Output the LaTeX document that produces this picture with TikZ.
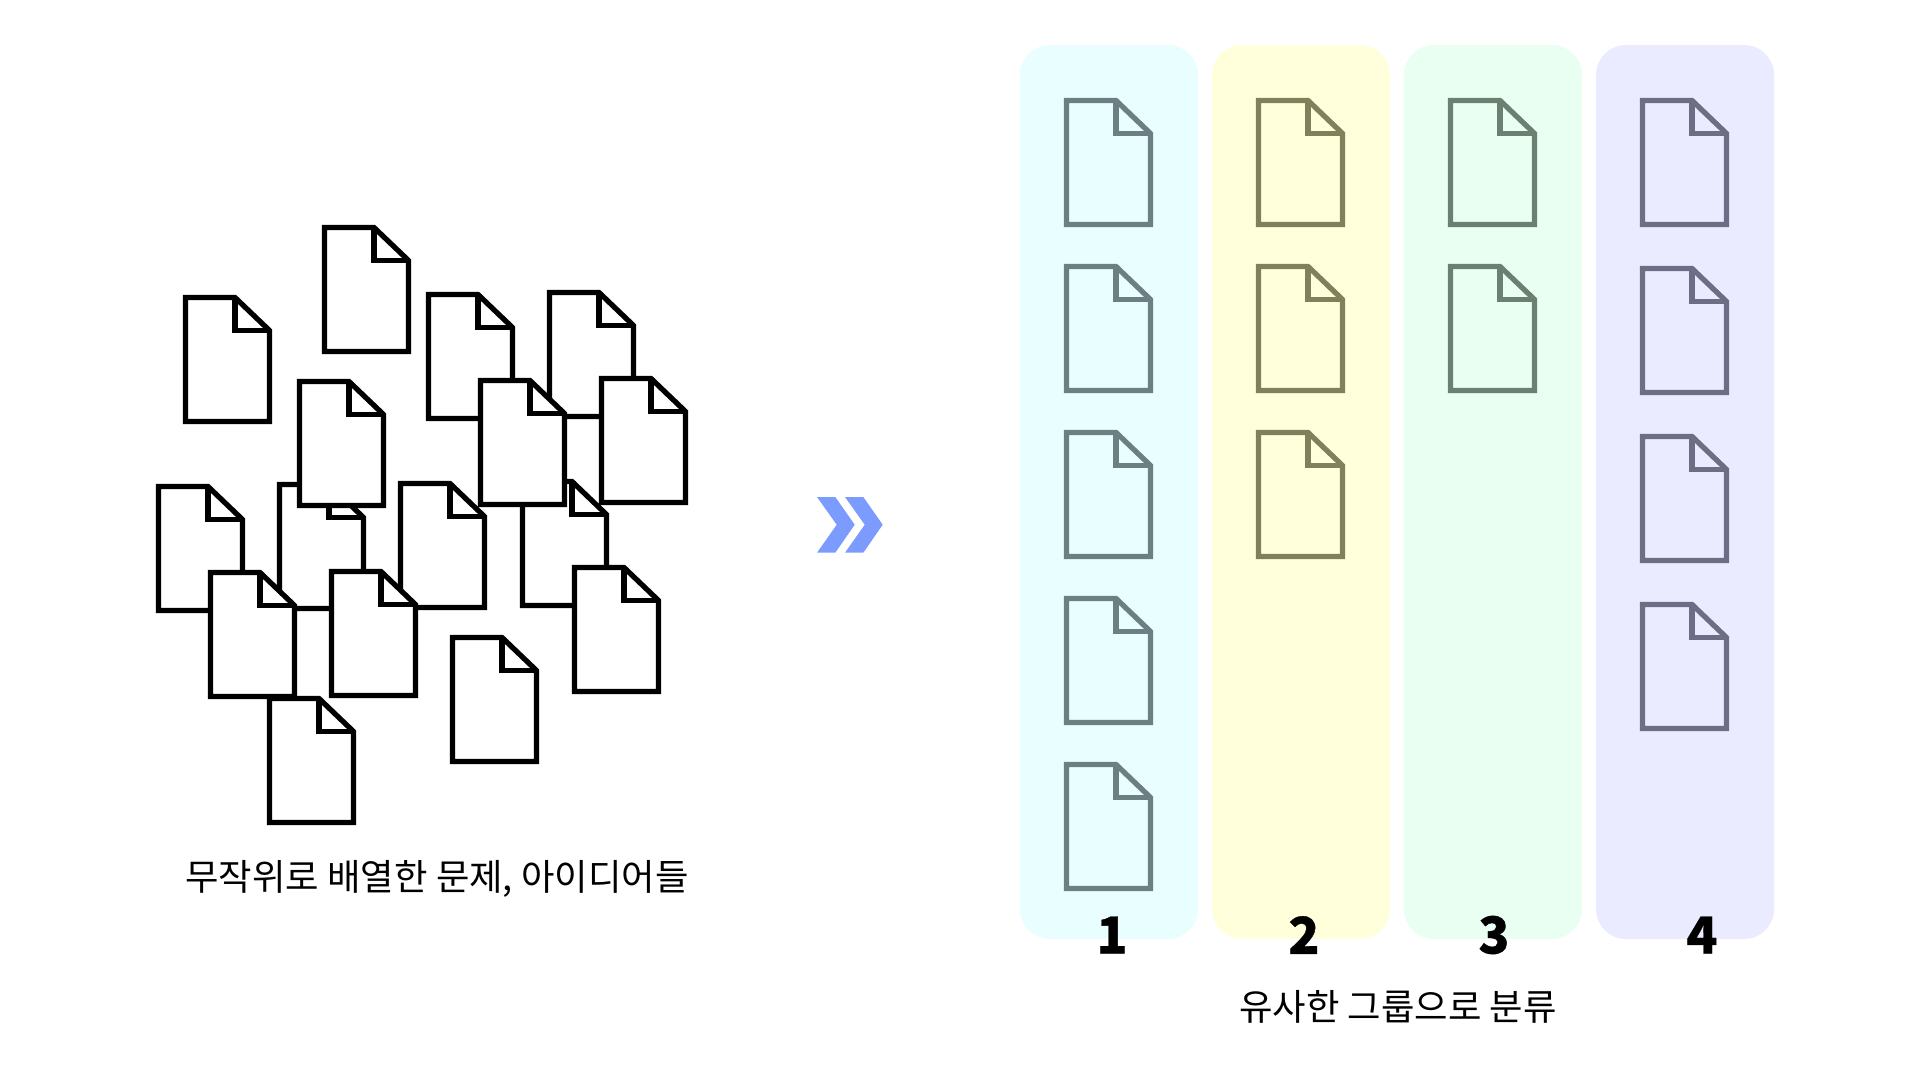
\documentclass[tikz,border=0pt]{standalone}
\usepackage{fontspec}
\setmainfont{Noto Sans CJK KR}
\newfontfamily\numfont[FakeBold=0.7]{Noto Sans CJK KR Black}
\usetikzlibrary{positioning}
\definecolor{panelA}{HTML}{E9FFFF}
\definecolor{panelB}{HTML}{FFFFDC}
\definecolor{panelC}{HTML}{E8FFF1}
\definecolor{panelD}{HTML}{EAEBFF}
\definecolor{lineA}{HTML}{6C7F82}
\definecolor{lineB}{HTML}{80805A}
\definecolor{lineC}{HTML}{6C8072}
\definecolor{lineD}{HTML}{6D6E85}
\definecolor{chevron}{HTML}{7B9BFF}
\tikzset{
  docsheet/.pic={
    \path[pic actions, line width=3pt, miter limit=10] (2.5,2.5) -- (52,2.5) -- (86.5,35.5) -- (86.5,126.5) -- (2.5,126.5) -- cycle;
    \path[pic actions, fill=none, line width=3pt] (52,2.5) -- (52,35.5) -- (86.5,35.5);
  },
  panel/.style={rounded corners=17pt},
  caption/.style={font=\fontsize{20.7pt}{24pt}\selectfont, inner sep=0pt},
  groupnum/.style={font=\numfont\fontsize{29pt}{32pt}\selectfont, inner sep=0pt}
}
\begin{document}
\begin{tikzpicture}[x=0.02cm, y=-0.02cm]
    \useasboundingbox (0,0) rectangle (1920,1080);

    % Loose sheets
    \foreach \x/\y in {183/295, 322/225, 426/292, 547/290,
                       156/484, 277/482, 398/481, 520/479,
                       297/379, 478/378, 599/376,
                       208/570, 329/569, 572/565, 450/635, 267/696}
        \pic[draw=black, fill=white] at (\x,\y) {docsheet};

    \node[caption] (loose) at (437,879) {무작위로 배열한 문제, 아이디어들};

    % Arrow
    \foreach \x in {0,28}
        \fill[chevron, xshift=\x*0.02cm] (817,497) -- (835.3,497) -- (854.7,524.7) -- (835.3,552.7) -- (817,552.7) -- (836.7,524.7) -- cycle;

    % Groups
    \fill[panelA, panel] (1020,45) rectangle (1198,939);
    \fill[panelB, panel] (1212,45) rectangle (1390,939);
    \fill[panelC, panel] (1404,45) rectangle (1582,939);
    \fill[panelD, panel] (1596,45) rectangle (1774,939);

    \foreach \y in {98,264,430,596,762}
        \pic[draw=lineA] at (1064,\y) {docsheet};
    \foreach \y in {98,264,430}
        \pic[draw=lineB] at (1256,\y) {docsheet};
    \foreach \y in {98,264}
        \pic[draw=lineC] at (1448,\y) {docsheet};
    \foreach \y in {98,266,434,602}
        \pic[draw=lineD] at (1640,\y) {docsheet};

    \node[groupnum] (num1) at (1112,935) {1};
    \node[groupnum] (num2) at (1304,935) {2};
    \node[groupnum] (num3) at (1494,935) {3};
    \node[groupnum] (num4) at (1702,935) {4};

    \node[caption] (sorted) at (1398,1007) {유사한 그룹으로 분류};
\end{tikzpicture}
\end{document}
